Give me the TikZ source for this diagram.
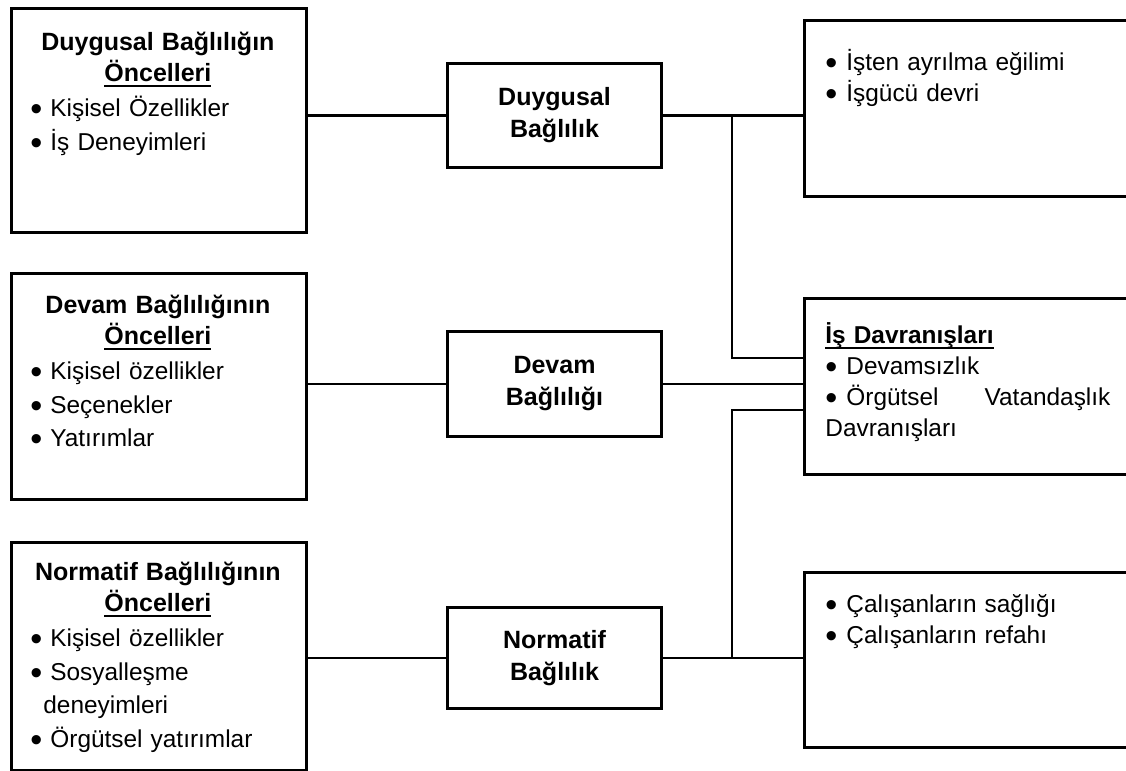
\documentclass[tikz,border=0pt]{standalone}
\usepackage{fontspec}
\setmainfont{Liberation Sans}
\usetikzlibrary{calc}

% underlined word with a rule set a little below the baseline
\newcommand\ulined[1]{\leavevmode\setbox0=\hbox{#1}\rlap{\rule[-3pt]{\wd0}{1pt}}\box0}
% a bold, slightly enlarged bullet
\newcommand\dotmark{\raisebox{-2pt}{\scalebox{1.4}{•}}}
% bullet item for the left-hand boxes
\newcommand\litem[1]{\hangindent=20pt\hangafter=1\noindent\hspace*{10pt}\makebox[10pt][l]{\dotmark}#1\par}
% bullet item for the right-hand boxes
\newcommand\ritem[1]{\hangindent=10.5pt\hangafter=1\noindent\makebox[10.5pt][l]{\dotmark}#1\par}
% centred bold heading of an antecedent box
\newcommand\lhead[1]{{\centering\bfseries\fontsize{12.5pt}{15.5pt}\selectfont #1\par\ulined{Öncelleri}\par}\vspace{1pt}}

\begin{document}
\begin{tikzpicture}[x=0.5pt,y=-0.5pt,
  frame/.style={draw,line width=1.5pt,inner sep=0pt,anchor=north west},
  leftbox/.style={frame,minimum width=147.5pt},
  midbox/.style={frame,minimum width=107pt,align=center,
    font=\fontsize{12.5pt}{16pt}\selectfont\bfseries},
  rightbox/.style={frame,minimum width=168.5pt},
  lefttext/.style={anchor=base west,inner sep=0pt,text width=147.5pt,align=left,
    font=\fontsize{12.2pt}{16.8pt}\selectfont},
  righttext/.style={anchor=base west,inner sep=0pt,text width=142.5pt,align=left,
    font=\fontsize{12.2pt}{15.5pt}\selectfont},
  conn/.style={line width=1.2pt}]

\clip (0,0) rectangle (1126,771);

% antecedent boxes
\node[leftbox,minimum height=112pt] (b1) at (10,7) {};
\node[leftbox,minimum height=113pt] (b2) at (10,272) {};
\node[leftbox,minimum height=114pt] (b3) at (10,541) {};

\node[lefttext] (t1) at (10,50) {%
  \lhead{Duygusal Bağlılığın}
  \litem{Kişisel Özellikler}
  \litem{İş Deneyimleri}};
\node[lefttext] (t2) at (10,313) {%
  \lhead{Devam Bağlılığının}
  \litem{Kişisel özellikler}
  \litem{Seçenekler}
  \litem{Yatırımlar}};
\node[lefttext] (t3) at (10,580) {%
  \lhead{Normatif Bağlılığının}
  \litem{Kişisel özellikler}
  \litem{Sosyalleşme}
  \noindent\hspace*{16.5pt}deneyimleri\par
  \litem{Örgütsel yatırımlar}};

% commitment boxes
\node[midbox,minimum height=52pt] (m1) at (446,62) {Duygusal\\Bağlılık};
\node[midbox,minimum height=52.5pt] (m2) at (446,330) {Devam\\Bağlılığı};
\node[midbox,minimum height=50.5pt] (m3) at (446,606) {Normatif\\Bağlılık};

% outcome boxes
\node[rightbox,minimum height=88pt] (r1) at (803,19) {};
\node[rightbox,minimum height=88pt] (r2) at (803,297) {};
\node[rightbox,minimum height=87.5pt] (r3) at (803,571) {};

\node[righttext] (u1) at (825,70) {%
  \ritem{İşten ayrılma eğilimi}
  \ritem{İşgücü devri}};
\node[righttext] (u2) at (825,343) {%
  {\bfseries\ulined{İş Davranışları}\par}
  \ritem{Devamsızlık}
  \ritem{Örgütsel \hfill Vatandaşlık}
  \noindent Davranışları\par};
\node[righttext] (u3) at (825,612) {%
  \ritem{Çalışanların sağlığı}
  \ritem{Çalışanların refahı}};

% connectors
\coordinate (trunk) at (732,0);
\coordinate (r2hi) at ($(m2.east -| r2.west)+(0,-26)$);
\coordinate (r2lo) at ($(m2.east -| r2.west)+(0,26)$);

\draw[conn] (m1.west -| b1.east) -- (m1.west);
\draw[conn] (m2.west -| b2.east) -- (m2.west);
\draw[conn] (m3.west -| b3.east) -- (m3.west);

\draw[conn] (m1.east) -- (m1.east -| r1.west);
\draw[conn] (m2.east) -- (m2.east -| r2.west);
\draw[conn] (m3.east) -- (m3.east -| r3.west);

\draw[conn] (m1.east -| trunk) |- (r2hi);
\draw[conn] (m3.east -| trunk) |- (r2lo);
\end{tikzpicture}
\end{document}
